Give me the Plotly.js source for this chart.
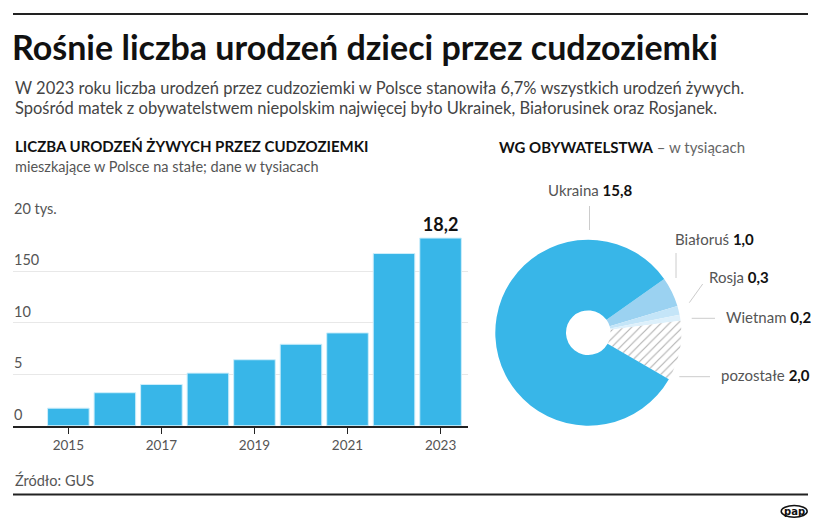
<!DOCTYPE html>
<html>
<head>
<meta charset="utf-8">
<script src="https://cdn.plot.ly/plotly-3.0.1.min.js"></script>
<style>
html,body{margin:0;padding:0;background:#fff;}
#chart{width:821px;height:526px;}
</style>
</head>
<body>
<div id="chart"></div>
<script>
// ---- data ----
const years = [2015, 2016, 2017, 2018, 2019, 2020, 2021, 2022, 2023];
const births = [1.7, 3.2, 4.0, 5.1, 6.4, 7.9, 9.0, 16.7, 18.2];
const yTickVals = [0, 5, 10, 15, 20];
const yTickText = ['0', '5', '10', '150', '20 tys.'];
const xTickVals = [2015, 2017, 2019, 2021, 2023];

const countries = ['Białoruś', 'Rosja', 'Wietnam', 'pozostałe', 'Ukraina'];
const countryValues = [1.0, 0.3, 0.2, 2.0, 15.8];

// ---- helpers ----
const W = 821, H = 526;
const FONT = 'Lato, sans-serif';
const px = x => x / W;
const py = y => 1 - y / H;
const fmt = v => v.toFixed(1).replace('.', ',');

const barText = births.map((v, i) => i === births.length - 1 ? fmt(v) : '');

const barTrace = {
  type: 'bar',
  x: years,
  y: births,
  xaxis: 'x', yaxis: 'y',
  marker: {color: '#38b6e8', line: {color: '#cdeefb', width: 1}},
  text: barText,
  textposition: 'outside',
  cliponaxis: false,
  textfont: {family: FONT, size: 18, color: '#111', weight: 700},
  hoverinfo: 'skip'
};

const pieTrace = {
  type: 'pie',
  labels: countries,
  values: countryValues,
  sort: false,
  direction: 'clockwise',
  rotation: 54.7,
  hole: 0.24,
  textinfo: 'none',
  hoverinfo: 'skip',
  domain: {x: [px(495.3), px(681.3)], y: [py(425.7), py(239.7)]},
  marker: {
    colors: ['#9bd2f1', '#c4e5f8', '#ddf0fb', '#ffffff', '#38b6e8'],
    line: {color: '#ffffff', width: 0},
    pattern: {shape: ['', '', '', '/', ''], fgcolor: '#b0b0b0', bgcolor: '#ffffff', size: 6, solidity: 0.18}
  },
  showlegend: false
};

const labelPos = {
  'Ukraina':   {x: 589.5, y: 190, anchor: 'center'},
  'Białoruś':  {x: 672.7, y: 239.3, anchor: 'left'},
  'Rosja':     {x: 706.7, y: 276.7, anchor: 'left'},
  'Wietnam':   {x: 724.3, y: 317.3, anchor: 'left'},
  'pozostałe': {x: 718.7, y: 375, anchor: 'left'}
};
const leaders = [
  [589.5, 206, 589.5, 230],
  [676, 253, 676, 278],
  [702.7, 284, 689.3, 302.7],
  [691.7, 318.3, 715, 318.3],
  [679.3, 376.7, 710, 376.7]
];

const annotations = [];
function txt(x, y, text, size, color, anchor, weight) {
  annotations.push({
    xref: 'paper', yref: 'paper', x: px(x), y: py(y),
    xanchor: anchor || 'left', yanchor: 'middle',
    text: text, showarrow: false,
    font: {family: FONT, size: size, color: color, weight: weight || 400}
  });
}

txt(13, 88, 'W 2023 roku liczba urodzeń przez cudzoziemki w Polsce stanowiła 6,7% wszystkich urodzeń żywych.', 16.5, '#444');
txt(13, 108, 'Spośród matek z obywatelstwem niepolskim najwięcej było Ukrainek, Białorusinek oraz Rosjanek.', 16.5, '#444');
txt(13, 146, 'LICZBA URODZEŃ ŻYWYCH PRZEZ CUDZOZIEMKI', 15, '#111', 'left', 700);
txt(13, 166.7, 'mieszkające w Polsce na stałe; dane w tysiacach', 14.5, '#555');
txt(496.7, 146.7, '<b>WG OBYWATELSTWA</b> <span style="color:#666;font-weight:400">– w tysiącach</span>', 15, '#111');
txt(13, 480, 'Źródło: GUS', 14.5, '#555');

countries.forEach((c, i) => {
  const p = labelPos[c];
  txt(p.x, p.y, '<span style="color:#555">' + c + '</span> <b>' + fmt(countryValues[i]) + '</b>', 15, '#111', p.anchor);
});

// y tick labels, sitting just above their gridlines at the left edge of the plot
yTickVals.forEach((v, i) => {
  annotations.push({
    xref: 'paper', yref: 'y', x: px(12), y: v,
    xanchor: 'left', yanchor: 'bottom', yshift: 1,
    text: yTickText[i], showarrow: false,
    font: {family: FONT, size: 14.5, color: '#555'}
  });
});

// pap logo
annotations.push({
  xref: 'paper', yref: 'paper', x: px(794.2), y: py(511.3),
  xanchor: 'center', yanchor: 'middle', showarrow: false,
  text: '<b>pap</b>', font: {family: 'DejaVu Sans, sans-serif', size: 10, color: '#111'}
});

const shapes = [
  {type: 'line', xref: 'paper', yref: 'paper', x0: px(13), x1: px(808), y0: py(14), y1: py(14), line: {color: '#222', width: 2}},
  {type: 'line', xref: 'paper', yref: 'paper', x0: px(13), x1: px(808), y0: py(494.5), y1: py(494.5), line: {color: '#222', width: 2}},
  {type: 'circle', xref: 'paper', yref: 'paper', x0: px(781.2), x1: px(807.2), y0: py(505.5), y1: py(517.2), line: {color: '#111', width: 1.5}}
];
leaders.forEach(l => shapes.push({
  type: 'line', xref: 'paper', yref: 'paper',
  x0: px(l[0]), y0: py(l[1]), x1: px(l[2]), y1: py(l[3]),
  line: {color: '#cccccc', width: 1}
}));

const layout = {
  width: W, height: H,
  margin: {l: 0, r: 0, t: 0, b: 0},
  paper_bgcolor: '#fff', plot_bgcolor: '#fff',
  showlegend: false,
  bargap: 0.106,
  font: {family: FONT},
  title: {
    text: '<b>Rośnie liczba urodzeń dzieci przez cudzoziemki</b>',
    xref: 'paper', yref: 'paper', x: px(12), xanchor: 'left',
    y: py(48), yanchor: 'middle',
    font: {family: FONT, size: 34, color: '#111'}
  },
  xaxis: {
    domain: [px(13), px(468)],
    range: [2013.81, 2023.59],
    tickvals: xTickVals,
    ticks: 'outside', ticklen: 6, tickcolor: '#222', tickwidth: 1,
    showline: true, linecolor: '#222', linewidth: 2,
    showgrid: false, zeroline: false,
    tickfont: {family: FONT, size: 13.5, color: '#555'},
    fixedrange: true
  },
  yaxis: {
    domain: [py(425.7), py(219.5)],
    range: [0, 20],
    tickvals: yTickVals,
    showticklabels: false,
    ticks: '',
    showgrid: true, gridcolor: '#e8e8e8', gridwidth: 1,
    zeroline: false, showline: false,
    fixedrange: true
  },
  annotations: annotations,
  shapes: shapes
};

Plotly.newPlot('chart', [barTrace, pieTrace], layout, {displayModeBar: false, staticPlot: true});
</script>
</body>
</html>
